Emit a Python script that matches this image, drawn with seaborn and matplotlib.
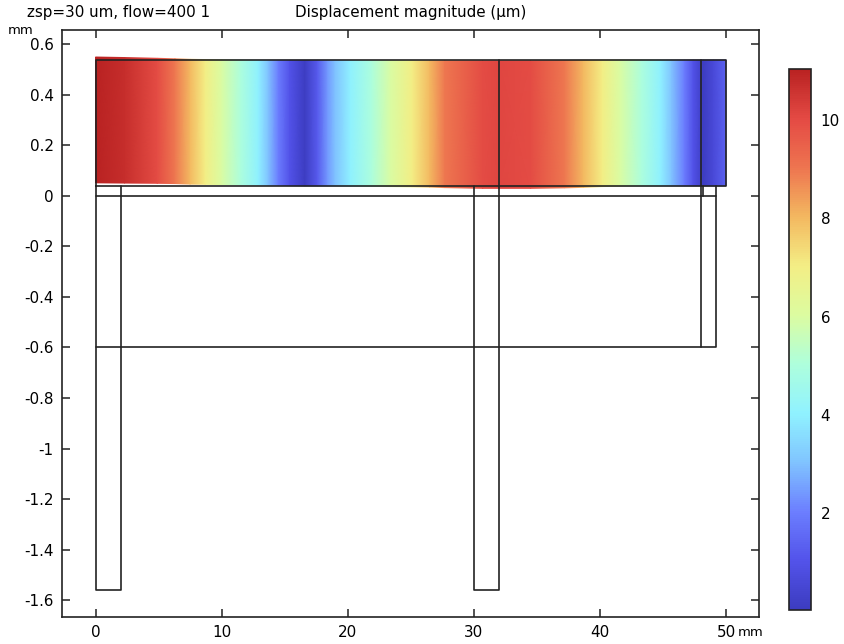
import matplotlib
matplotlib.use('Agg')
import matplotlib.pyplot as plt
from matplotlib.colors import LinearSegmentedColormap
import numpy as np
import pandas as pd
import seaborn as sns


# Field along the plate (mm, um)
field_x = [0, 2.3, 4.9, 6.3, 7.5, 8.7, 10.0, 11.5, 12.9, 13.7, 14.5, 15.4, 16.6, 17.6, 18.4, 19.0, 20.2, 21.9, 23.4, 25.1,
           26.5, 27.7, 30.7, 32, 34.5, 37.2, 38.7, 40.2, 41.6, 43.3, 44.8, 45.7, 46.7, 47.4, 48.2, 49, 50]
field_um = [11.0, 10.7, 10.0, 9.0, 8.0, 7.0, 6.0, 5.0, 4.0, 3.0, 2.0, 1.0, 0.1, 1.2, 2.4, 3.0, 4.0, 5.0, 6.0, 7.0,
            8.0, 9.0, 10.0, 10.1, 10.0, 9.0, 8.0, 7.0, 6.0, 5.0, 4.0, 3.0, 2.0, 1.0, 0.1, 0.6, 1.4]
top_edge = [0.55, 0.548, 0.545, 0.543, 0.541, 0.540, 0.539, 0.538, 0.537, 0.537, 0.537, 0.537, 0.537, 0.537, 0.537, 0.537, 0.536, 0.536, 0.536, 0.535,
            0.535, 0.535, 0.535, 0.535, 0.535, 0.536, 0.537, 0.537, 0.538, 0.538, 0.538, 0.538, 0.538, 0.538, 0.538, 0.538, 0.538]
bottom_edge = [0.052, 0.051, 0.050, 0.049, 0.047, 0.046, 0.045, 0.044, 0.043, 0.042, 0.042, 0.041, 0.040, 0.040, 0.040, 0.040, 0.039, 0.038, 0.037, 0.036,
               0.035, 0.033, 0.030, 0.030, 0.030, 0.032, 0.034, 0.037, 0.039, 0.040, 0.040, 0.040, 0.040, 0.040, 0.040, 0.040, 0.040]

# Geometry outlines (mm)
parts = {
    'plate': ([0, 50, 50, 0, 0], [0.04, 0.04, 0.54, 0.54, 0.04]),
    'layer_top': ([0, 49.2, 49.2], [0, 0, 0.04]),
    'layer_bottom': ([0, 49.2, 49.2], [-0.6, -0.6, 0]),
    'foot_left': ([0, 0, 2, 2], [0.04, -1.56, -1.56, 0.04]),
    'foot_mid': ([30, 30, 32, 32], [0.04, -1.56, -1.56, 0.54]),
    'foot_right': ([48, 48], [0.54, -0.6]),
    'notch': ([48.2, 48.2], [0, 0.04]),
}

x_ticks = [0, 10, 20, 30, 40, 50]
y_ticks = [0.6, 0.4, 0.2, 0, -0.2, -0.4, -0.6, -0.8, -1, -1.2, -1.4, -1.6]
y_labels = ['0.6', '0.4', '0.2', '0', '-0.2', '-0.4', '-0.6', '-0.8', '-1', '-1.2', '-1.4', '-1.6']
cbar_ticks = [2, 4, 6, 8, 10]

rainbow_colors = ['#3c3cc0', '#5353ea', '#6c7fff', '#80c4ff', '#90f2ff', '#aeffdc',
                  '#dcfca0', '#f3ee85', '#f3b860', '#ee7550', '#e44a44', '#b92222']

sns.set_style('white')
plt.rcParams['font.family'] = 'DejaVu Sans'
plt.rcParams['font.size'] = 10.9
plt.rcParams['text.color'] = 'black'
plt.rcParams['axes.unicode_minus'] = False

INK = '#222222'
cmap = LinearSegmentedColormap.from_list('rainbow_light', rainbow_colors)

fig = plt.figure(figsize=(8.45, 6.44), dpi=100)
ax = fig.add_axes([62 / 845, 1 - 616.5 / 644, (759.5 - 62) / 845, (616.5 - 30) / 644])
cax = fig.add_axes([789 / 845, 1 - 610 / 644, 22 / 845, 541 / 644])

# Deformed plate, coloured by displacement
X = np.array([field_x, field_x])
Y = np.array([bottom_edge, top_edge])
Z = np.array([field_um, field_um])
mesh = ax.pcolormesh(X, Y, Z, shading='gouraud', cmap=cmap, vmin=0.03, vmax=11.04, zorder=1)

outlines = pd.concat([
    pd.DataFrame({'x': xs, 'y': ys, 'part': name}) for name, (xs, ys) in parts.items()
])
sns.lineplot(data=outlines, x='x', y='y', units='part', estimator=None, sort=False,
             color=INK, linewidth=1.2, ax=ax, zorder=3)

ax.set_xlim(-2.66, 52.66)
ax.set_ylim(-1.665, 0.657)
ax.set_xlabel('')
ax.set_ylabel('')
ax.set_xticks(x_ticks)
ax.set_yticks(y_ticks)
ax.set_yticklabels(y_labels)
ax.tick_params(direction='in', length=6, width=1.1, color=INK, labelcolor='black',
               top=True, right=True, bottom=True, left=True, pad=6, labelsize=10.9)
for spine in ax.spines.values():
    spine.set_color(INK)
    spine.set_linewidth(1.2)

cb = fig.colorbar(mesh, cax=cax)
cb.set_ticks(cbar_ticks)
cax.tick_params(axis='y', which='major', direction='in', left=True, right=True, length=3, width=1.1,
                color=INK, labelcolor='black', pad=7, labelsize=10.9)
cb.outline.set_edgecolor(INK)
cb.outline.set_linewidth(1.2)

fig.text(27 / 845, 1 - 13 / 644, 'zsp=30 um, flow=400 1', fontsize=10.9, va='center', ha='left')
fig.text(411 / 845, 1 - 13 / 644, 'Displacement magnitude (µm)', fontsize=10.9, va='center', ha='center')
fig.text(8 / 845, 1 - 31 / 644, 'mm', fontsize=9.5, va='center', ha='left')
fig.text(738 / 845, 1 - 633 / 644, 'mm', fontsize=9.5, va='center', ha='left')

fig.savefig('out.png', dpi=100)
